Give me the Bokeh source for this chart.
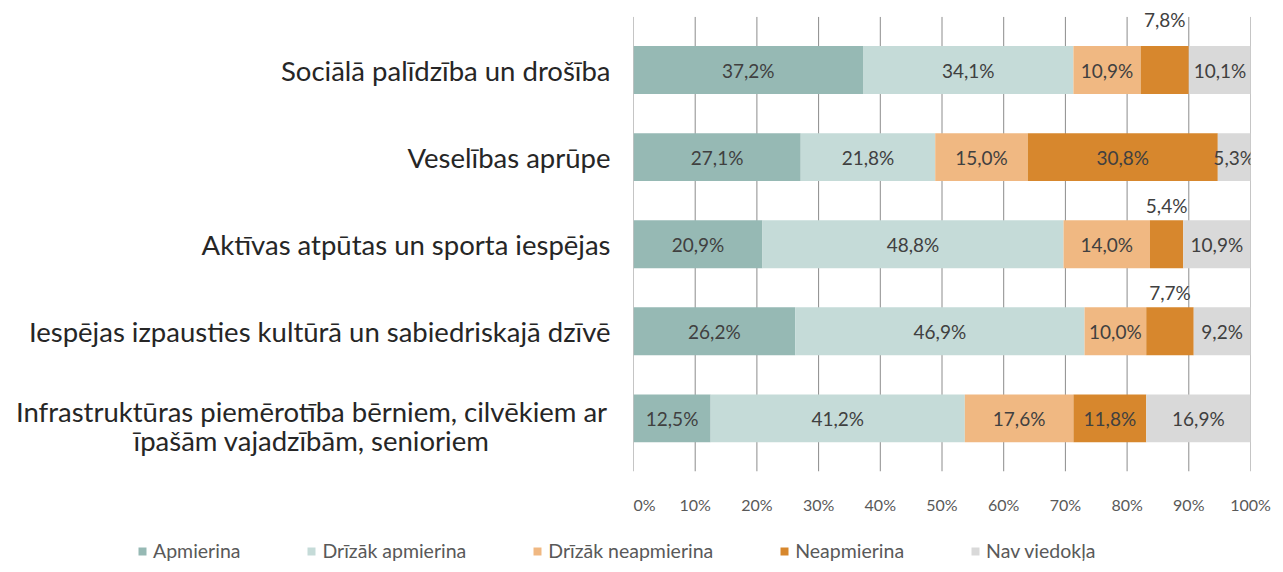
from bokeh.plotting import figure
from bokeh.layouts import row, column
from bokeh.models import ColumnDataSource, FixedTicker, Legend, LegendItem, Range1d
from bokeh.embed import file_html
from bokeh.resources import INLINE
from bokeh.core.properties import value

# ---------------- data ----------------
categories = [
    "Sociālā palīdzība un drošība",
    "Veselības aprūpe",
    "Aktīvas atpūtas un sporta iespējas",
    "Iespējas izpausties kultūrā un sabiedriskajā dzīvē",
    "Infrastruktūras piemērotība bērniem, cilvēkiem ar\nīpašām vajadzībām, senioriem",
]
series_names = ["Apmierina", "Drīzāk apmierina", "Drīzāk neapmierina", "Neapmierina", "Nav viedokļa"]
apmierina = [37.2, 27.1, 20.9, 26.2, 12.5]
drizak_apmierina = [34.1, 21.8, 48.8, 46.9, 41.2]
drizak_neapmierina = [10.9, 15.0, 14.0, 10.0, 17.6]
neapmierina = [7.8, 30.8, 5.4, 7.7, 11.8]
nav_viedokla = [10.1, 5.3, 10.9, 9.2, 16.9]
x_ticks = [0, 10, 20, 30, 40, 50, 60, 70, 80, 90, 100]
x_tick_labels = ["0%", "10%", "20%", "30%", "40%", "50%", "60%", "70%", "80%", "90%", "100%"]

# ---------------- style ----------------
colors = ["#96b9b4", "#c5dbd8", "#f0b882", "#d7872d", "#d9d9d9"]
FONT = "Lato"
BAR_H = 0.55
PAD = 0.61          # band padding of the plot area (y units)
EXTRA_TOP = 0.12    # room above the plot area for outside labels
LINE_GAP = 0.333    # line spacing of two-line category labels (y units)
# labels drawn above the bar: (series index, category index) -> offset in y units
outside = {(3, 0): 0.585, (3, 2): 0.45, (3, 3): 0.45}

n = len(categories)
ypos = [n - 1 - i for i in range(n)]
all_series = [apmierina, drizak_apmierina, drizak_neapmierina, neapmierina, nav_viedokla]

yr = Range1d(-PAD, n - 1 + PAD + EXTRA_TOP)
FH = 465
BOTTOM = 40

p = figure(
    frame_width=617, frame_height=FH,
    x_range=Range1d(0, 100), y_range=yr,
    output_backend="svg", toolbar_location=None,
    min_border_left=0, min_border_right=25, min_border_top=6, min_border_bottom=BOTTOM,
    outline_line_color=None,
)

# grid lines spanning the plot area only
p.segment(x0=x_ticks, x1=x_ticks, y0=[-PAD] * len(x_ticks), y1=[n - 1 + PAD] * len(x_ticks),
          line_color="#8c8c8c", line_width=1)

left = [0.0] * n
lab_x, lab_y, lab_t = [], [], []
for s, (name, vals) in enumerate(zip(series_names, all_series)):
    right = [l + v for l, v in zip(left, vals)]
    src = ColumnDataSource(dict(y=ypos, left=left, right=right))
    p.hbar(y="y", left="left", right="right", height=BAR_H, source=src,
           fill_color=colors[s], line_color=None)
    for c in range(n):
        lab_x.append(left[c] + vals[c] / 2)
        lab_y.append(ypos[c] + outside.get((s, c), 0.0))
        lab_t.append(("%.1f" % vals[c]).replace(".", ",") + "%")
    left = right

lsrc = ColumnDataSource(dict(x=lab_x, y=lab_y, t=lab_t))
p.text(x="x", y="y", text="t", source=lsrc, text_font=value(FONT),
       text_font_size="19px", text_color="#404040",
       text_align="center", text_baseline="middle")

# axes
p.xaxis.ticker = FixedTicker(ticks=x_ticks)
p.xaxis.major_label_overrides = {t: l for t, l in zip(x_ticks, x_tick_labels)}
p.xaxis.axis_line_color = None
p.xaxis.major_tick_line_color = None
p.xaxis.minor_tick_line_color = None
p.xaxis.major_label_standoff = 17
p.xaxis.major_label_text_font = FONT
p.xaxis.major_label_text_font_size = "16px"
p.xaxis.major_label_text_color = "#595959"
p.yaxis.visible = False
p.grid.visible = False

# ---------------- category label panel ----------------
LW = 633
q = figure(
    frame_width=LW, frame_height=FH,
    x_range=Range1d(0, LW), y_range=yr,
    output_backend="svg", toolbar_location=None,
    min_border_left=0, min_border_right=0, min_border_top=6, min_border_bottom=BOTTOM,
    outline_line_color=None,
)
q.axis.visible = False
q.grid.visible = False
s_y, s_t = [], []
m_y, m_t = [], []
for c, cat in enumerate(categories):
    lines = cat.split("\n")
    if len(lines) == 1:
        s_y.append(ypos[c]); s_t.append(cat)
    else:
        k = len(lines)
        for j, ln in enumerate(lines):
            m_y.append(ypos[c] - 0.085 + LINE_GAP * ((k - 1) / 2 - j))
            m_t.append(ln)
q.text(x=[LW - 23] * len(s_t), y=s_y, text=s_t,
       text_font=value(FONT), text_font_size="27.5px", text_color="#262626",
       text_align="right", text_baseline="middle")
q.text(x=[311] * len(m_t), y=m_y, text=m_t,
       text_font=value(FONT), text_font_size="27.5px", text_color="#262626",
       text_align="center", text_baseline="middle")

# ---------------- legend strip ----------------
lg = figure(
    frame_width=LW + 617 + 25, frame_height=58,
    x_range=Range1d(0, 1), y_range=Range1d(0, 1),
    output_backend="svg", toolbar_location=None,
    min_border_left=0, min_border_right=0, min_border_top=0, min_border_bottom=0,
    outline_line_color=None,
)
lg.axis.visible = False
lg.grid.visible = False
items = []
for s, name in enumerate(series_names):
    # swatch-only renderer (placed outside the visible range)
    r = lg.hbar(y=[-5], left=[0], right=[1], height=BAR_H, fill_color=colors[s], line_color=None)
    items.append(LegendItem(label=name, renderers=[r]))
legend = Legend(items=items, orientation="horizontal", location=(137, 12),
                glyph_width=10, glyph_height=10, label_standoff=6, spacing=66,
                padding=0, margin=0, border_line_color=None, background_fill_alpha=0,
                label_text_font=FONT, label_text_font_size="19.5px", label_text_color="#595959")
lg.add_layout(legend, "center")

layout = column(row(q, p, spacing=0), lg, spacing=0)
open("out.html", "w").write(file_html(layout, INLINE))
